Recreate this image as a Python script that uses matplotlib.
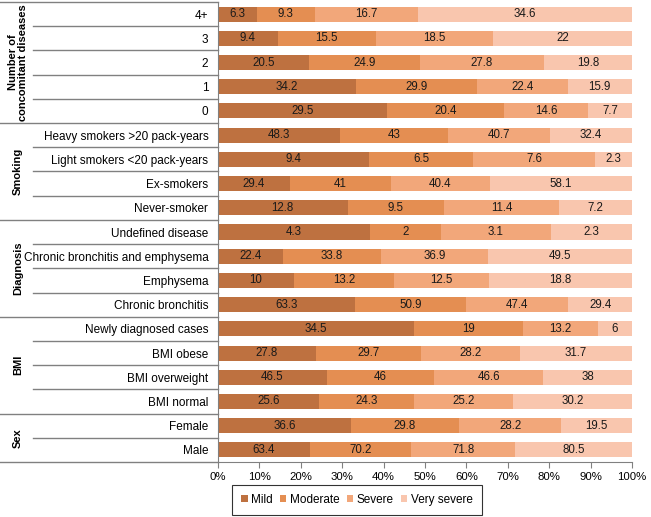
import matplotlib
matplotlib.use("Agg")
import matplotlib.pyplot as plt
from matplotlib.patches import Patch
from matplotlib.transforms import blended_transform_factory
import numpy as np

plt.rcParams['font.family'] = ['Liberation Sans', 'DejaVu Sans']

rows = ["4+", "3", "2", "1", "0",
        "Heavy smokers >20 pack-years", "Light smokers <20 pack-years", "Ex-smokers", "Never-smoker",
        "Undefined disease", "Chronic bronchitis and emphysema", "Emphysema", "Chronic bronchitis",
        "Newly diagnosed cases", "BMI obese", "BMI overweight", "BMI normal",
        "Female", "Male"]
groups = ["Number of\nconcomitant diseases", "Smoking", "Diagnosis", "BMI", "Sex"]
group_sizes = [5, 4, 4, 4, 2]
series = ["Mild", "Moderate", "Severe", "Very severe"]
mild = [6.3, 9.4, 20.5, 34.2, 29.5, 48.3, 9.4, 29.4, 12.8, 4.3, 22.4, 10, 63.3, 34.5, 27.8, 46.5, 25.6, 36.6, 63.4]
moderate = [9.3, 15.5, 24.9, 29.9, 20.4, 43, 6.5, 41, 9.5, 2, 33.8, 13.2, 50.9, 19, 29.7, 46, 24.3, 29.8, 70.2]
severe = [16.7, 18.5, 27.8, 22.4, 14.6, 40.7, 7.6, 40.4, 11.4, 3.1, 36.9, 12.5, 47.4, 13.2, 28.2, 46.6, 25.2, 28.2, 71.8]
very_severe = [34.6, 22, 19.8, 15.9, 7.7, 32.4, 2.3, 58.1, 7.2, 2.3, 49.5, 18.8, 29.4, 6, 31.7, 38, 30.2, 19.5, 80.5]
labels_fmt = lambda v: ("%g" % v)
colors = ["#BE7140", "#E48E52", "#F2A77A", "#F9C6AE"]

data = np.array([mild, moderate, severe, very_severe], dtype=float)
totals = data.sum(axis=0)
pct = data / totals * 100

fig = plt.figure(figsize=(6.51, 5.17), dpi=100)
ax = fig.add_axes([218/651, 1-462/517, 414/651, 460/517])

y = np.arange(len(rows))
left = np.zeros(len(rows))
for i, (name, col) in enumerate(zip(series, colors)):
    ax.barh(y, pct[i], left=left, height=0.62, color=col, edgecolor='none', label=name)
    for j in range(len(rows)):
        ax.text(left[j] + pct[i][j]/2, y[j], labels_fmt(data[i][j]), ha='center', va='center',
                fontsize=8.3, color='#1a1a1a')
    left += pct[i]

ax.set_ylim(len(rows)-0.5, -0.5)
ax.set_xlim(0, 100)
ax.set_xticks(np.arange(0, 101, 10))
ax.set_xticklabels(["%d%%" % v for v in range(0, 101, 10)], fontsize=8.2)
ax.set_yticks(y)
ax.set_yticklabels(rows, fontsize=8.5)
ax.tick_params(axis='y', length=0, pad=7)
ax.tick_params(axis='x', length=4, color='#808080', pad=3)
for s in ['top', 'right']:
    ax.spines[s].set_visible(False)
ax.spines['left'].set_color('#808080')
ax.spines['bottom'].set_color('#808080')

tr = blended_transform_factory(ax.transAxes, ax.transData)
x0 = -218/414
x1 = -185/414
lc = '#808080'
ax.plot([x0, 0], [-0.5, -0.5], transform=tr, color=lc, lw=1, clip_on=False)
ax.plot([x0, 0], [len(rows)-0.5, len(rows)-0.5], transform=tr, color=lc, lw=1, clip_on=False)
start = 0
for g, n in zip(groups, group_sizes):
    end = start + n
    if end < len(rows):
        ax.plot([x0, 0], [end-0.5, end-0.5], transform=tr, color=lc, lw=1, clip_on=False)
    for k in range(start+1, end):
        ax.plot([x1, 0], [k-0.5, k-0.5], transform=tr, color=lc, lw=1, clip_on=False)
    ax.text(-200/414, (start+end-1)/2, g, transform=tr, rotation=90, ha='center', va='center',
            fontsize=8, fontweight='bold', linespacing=1.05)
    start = end

handles = [Patch(facecolor=c, edgecolor='none') for c in colors]
leg = fig.legend(handles, series, loc='center', bbox_to_anchor=(357/651, 1-500/517), ncol=4,
                 fontsize=8.5, frameon=True, fancybox=False, handlelength=0.55, handleheight=0.55,
                 handletextpad=0.3, columnspacing=0.6, borderpad=0.75)
leg.get_frame().set_edgecolor('black')
leg.get_frame().set_linewidth(0.8)

fig.savefig("out.png", dpi=100)
